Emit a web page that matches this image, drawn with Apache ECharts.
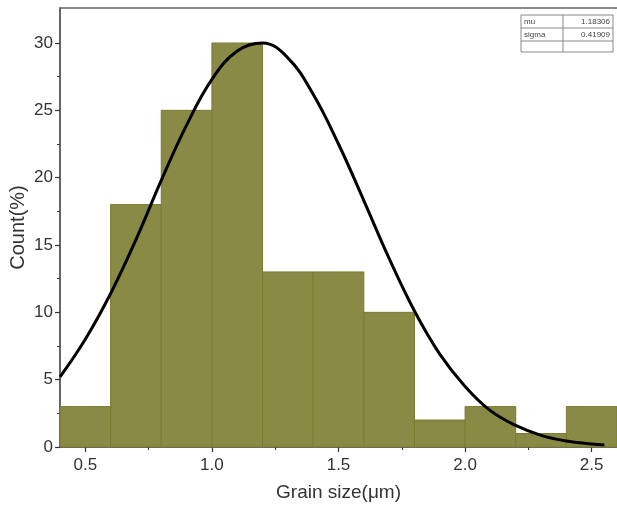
<!DOCTYPE html>
<html>
<head>
<meta charset="utf-8">
<script src="https://cdn.jsdelivr.net/npm/echarts@6/dist/echarts.min.js"></script>
<style>
  html, body { margin: 0; padding: 0; background: #fff; }
  #chart { width: 617px; height: 510px; }
</style>
</head>
<body>
<div id="chart"></div>
<script>
// histogram bins (grain size, um) and counts (%)
const binEdges = [0.4, 0.6, 0.8, 1.0, 1.2, 1.4, 1.6, 1.8, 2.0, 2.2, 2.4, 2.6];
const counts = [3, 18, 25, 30, 13, 13, 10, 2, 3, 1, 3];

// fitted curve
const curveX = [0.4, 0.5, 0.6, 0.7, 0.8, 0.9, 1.0, 1.1, 1.2, 1.3, 1.4, 1.5, 1.6, 1.7, 1.8, 1.9, 2.0, 2.1, 2.2, 2.3, 2.4, 2.5, 2.55];
const curveY = [5.2, 8.0, 11.4, 15.4, 19.8, 23.9, 27.3, 29.4, 30.0, 28.9, 26.2, 22.5, 18.3, 14.0, 10.1, 6.9, 4.5, 2.7, 1.6, 0.86, 0.44, 0.22, 0.15];

const xTicks = [0.5, 1.0, 1.5, 2.0, 2.5];
const xMinorTicks = [0.75, 1.25, 1.75, 2.25];
const yTicks = [0, 5, 10, 15, 20, 25, 30];
const yMinorTicks = [2.5, 7.5, 12.5, 17.5, 22.5, 27.5];

const fitNames = ['mu', 'sigma'];
const fitValues = ['1.18306', '0.41909'];

const chart = echarts.init(document.getElementById('chart'));

const histData = counts.map((c, i) => [binEdges[i], binEdges[i + 1], c]);
const curveData = curveX.map((x, i) => [x, curveY[i]]);

const font = '"Liberation Sans", Arial, sans-serif';
const axisColor = '#333';

const tableLeft = 521, tableTop = 15, colSplit = 563, tableRight = 613, rowH = 13;
const tableGraphics = [
  { type: 'rect', shape: { x: tableLeft, y: tableTop, width: tableRight - tableLeft, height: 37 },
    style: { fill: '#fff', stroke: '#888', lineWidth: 1 } },
  { type: 'line', shape: { x1: tableLeft, y1: tableTop + rowH, x2: tableRight, y2: tableTop + rowH },
    style: { stroke: '#888', lineWidth: 1 } },
  { type: 'line', shape: { x1: tableLeft, y1: tableTop + 2 * rowH, x2: tableRight, y2: tableTop + 2 * rowH },
    style: { stroke: '#888', lineWidth: 1 } },
  { type: 'line', shape: { x1: colSplit, y1: tableTop, x2: colSplit, y2: tableTop + 37 },
    style: { stroke: '#888', lineWidth: 1 } }
];
fitNames.forEach((n, i) => {
  tableGraphics.push({
    type: 'text', left: tableLeft + 3, top: tableTop + 3 + i * rowH,
    style: { text: n, font: '8px ' + font, fill: '#444' }
  });
  tableGraphics.push({
    type: 'text', right: 617 - tableRight + 3, top: tableTop + 3 + i * rowH,
    style: { text: fitValues[i], font: '8px ' + font, fill: '#444', align: 'right' }
  });
});

const option = {
  animation: false,
  backgroundColor: '#fff',
  grid: { left: 60, right: 0, top: 8, bottom: 63, outerBoundsMode: 'none' },
  xAxis: [
    {
      type: 'value', min: 0.4, max: 2.6,
      name: 'Grain size(μm)', nameLocation: 'middle', nameGap: 36,
      nameTextStyle: { fontFamily: font, fontSize: 19, color: axisColor },
      axisLine: { show: true, lineStyle: { color: axisColor, width: 1.5 } },
      axisTick: { show: true, customValues: xTicks, length: 5, lineStyle: { color: axisColor, width: 1.2 } },
      axisLabel: { customValues: xTicks, formatter: v => v.toFixed(1), fontFamily: font, fontSize: 17, color: axisColor, margin: 10 },
      splitLine: { show: false }
    },
    {
      type: 'value', min: 0.4, max: 2.6, position: 'bottom',
      axisLine: { show: false },
      axisTick: { show: true, customValues: xMinorTicks, length: 3, lineStyle: { color: axisColor, width: 1 } },
      axisLabel: { show: false },
      splitLine: { show: false }
    },
    {
      type: 'value', min: 0.4, max: 2.6, position: 'top',
      axisLine: { show: true, lineStyle: { color: '#666', width: 1.5 } },
      axisTick: { show: false }, axisLabel: { show: false }, splitLine: { show: false }
    }
  ],
  yAxis: [
    {
      type: 'value', min: 0, max: 32.6,
      name: 'Count(%)', nameLocation: 'middle', nameGap: 32, nameMoveOverlap: false,
      nameTextStyle: { fontFamily: font, fontSize: 20, color: axisColor },
      axisLine: { show: true, lineStyle: { color: axisColor, width: 1.5 } },
      axisTick: { show: true, customValues: yTicks, length: 5, lineStyle: { color: axisColor, width: 1.2 } },
      axisLabel: { customValues: yTicks, fontFamily: font, fontSize: 17, color: axisColor, margin: 7 },
      splitLine: { show: false }
    },
    {
      type: 'value', min: 0, max: 32.6, position: 'left',
      axisLine: { show: false },
      axisTick: { show: true, customValues: yMinorTicks, length: 3, lineStyle: { color: axisColor, width: 1 } },
      axisLabel: { show: false },
      splitLine: { show: false }
    }
  ],
  graphic: tableGraphics,
  series: [
    {
      type: 'custom',
      xAxisIndex: 0, yAxisIndex: 0,
      data: histData,
      renderItem: (params, api) => {
        const p0 = api.coord([api.value(0), api.value(2)]);
        const p1 = api.coord([api.value(1), 0]);
        return {
          type: 'rect',
          shape: { x: p0[0], y: p0[1], width: p1[0] - p0[0], height: p1[1] - p0[1] },
          style: { fill: '#8a8a47', stroke: '#7b7b2f', lineWidth: 1 }
        };
      },
      z: 2
    },
    {
      type: 'line',
      xAxisIndex: 0, yAxisIndex: 0,
      data: curveData,
      smooth: 0.4,
      showSymbol: false,
      lineStyle: { color: '#000', width: 3 },
      z: 3
    }
  ]
};

chart.setOption(option);
</script>
</body>
</html>
